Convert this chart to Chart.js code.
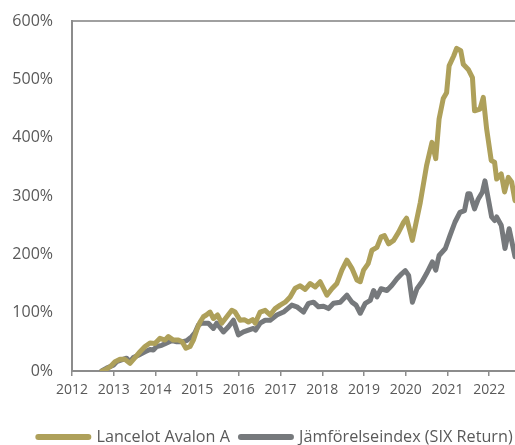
<!DOCTYPE html>
<html>
<head>
<meta charset="utf-8">
<script src="https://cdn.jsdelivr.net/npm/chart.js@4"></script>
<style>
  html, body { margin: 0; padding: 0; background: #ffffff; }
  #wrap { width: 515px; height: 445px; position: relative; }
</style>
</head>
<body>
<div id="wrap"><canvas id="c"></canvas></div>
<script>
// Series labels
const seriesNames = ['Lancelot Avalon A', 'Jämförelseindex (SIX Return)'];

// Lancelot Avalon A: time (decimal year) and cumulative return (%)
const lancelotTime = [
  2012.72, 2012.79, 2012.91, 2013.03, 2013.15, 2013.27, 2013.39, 2013.51, 2013.63, 2013.75,
  2013.87, 2013.99, 2014.11, 2014.23, 2014.31, 2014.43, 2014.55, 2014.64, 2014.73, 2014.83,
  2014.91, 2014.99, 2015.07, 2015.15, 2015.22, 2015.31, 2015.39, 2015.49, 2015.59, 2015.71,
  2015.83, 2015.91, 2016.03, 2016.13, 2016.23, 2016.33, 2016.39, 2016.51, 2016.63, 2016.75,
  2016.87, 2016.99, 2017.11, 2017.23, 2017.35, 2017.47, 2017.59, 2017.71, 2017.83, 2017.95,
  2018.11, 2018.23, 2018.35, 2018.47, 2018.59, 2018.71, 2018.83, 2018.91, 2018.99, 2019.10,
  2019.19, 2019.31, 2019.41, 2019.49, 2019.59, 2019.71, 2019.83, 2019.95, 2020.02, 2020.16,
  2020.35, 2020.50, 2020.63, 2020.72, 2020.80, 2020.90, 2020.98, 2021.04, 2021.15, 2021.22,
  2021.32, 2021.38, 2021.50, 2021.60, 2021.65, 2021.78, 2021.86, 2021.94, 2022.05, 2022.13,
  2022.18, 2022.29, 2022.37, 2022.46, 2022.54, 2022.62
];
const lancelotValues = [
  0, 2, 7, 16, 20, 20, 13, 23, 33, 42,
  48, 47, 56, 53, 59, 53, 53, 50, 39, 42,
  53, 70, 84, 93, 96, 101, 90, 96, 82, 93,
  104, 101, 87, 88, 84, 88, 82, 101, 104, 96,
  107, 113, 118, 127, 142, 146, 140, 150, 144, 153,
  130, 141, 150, 173, 190, 176, 156, 153, 173, 184,
  207, 212, 230, 232, 218, 224, 238, 255, 262, 224,
  289, 352, 392, 364, 432, 467, 477, 523, 540, 553,
  549, 526, 517, 503, 446, 449, 469, 415, 361, 358,
  329, 338, 307, 332, 324, 292
];

// Jämförelseindex (SIX Return): time (decimal year) and cumulative return (%)
const sixTime = [
  2012.71, 2012.83, 2012.99, 2013.07, 2013.19, 2013.31, 2013.39, 2013.47, 2013.59, 2013.75,
  2013.87, 2013.95, 2014.03, 2014.15, 2014.27, 2014.39, 2014.51, 2014.63, 2014.75, 2014.87,
  2014.95, 2015.03, 2015.11, 2015.27, 2015.39, 2015.47, 2015.63, 2015.75, 2015.87, 2015.99,
  2016.11, 2016.23, 2016.35, 2016.40, 2016.51, 2016.63, 2016.75, 2016.91, 2017.07, 2017.27,
  2017.39, 2017.55, 2017.67, 2017.79, 2017.91, 2018.03, 2018.15, 2018.27, 2018.43, 2018.59,
  2018.71, 2018.81, 2018.91, 2019.03, 2019.15, 2019.23, 2019.31, 2019.41, 2019.55, 2019.67,
  2019.79, 2019.91, 2019.99, 2020.07, 2020.16, 2020.27, 2020.39, 2020.50, 2020.64, 2020.72,
  2020.80, 2020.95, 2021.06, 2021.18, 2021.30, 2021.41, 2021.49, 2021.54, 2021.65, 2021.74,
  2021.84, 2021.90, 2021.98, 2022.06, 2022.13, 2022.18, 2022.29, 2022.38, 2022.48, 2022.62
];
const sixValues = [
  0, 5, 10, 16, 19, 22, 16, 23, 27, 33,
  37, 36, 42, 44, 48, 52, 50, 50, 52, 59,
  66, 79, 82, 82, 73, 82, 67, 76, 87, 62,
  67, 70, 73, 70, 82, 87, 87, 96, 101, 113,
  110, 101, 116, 118, 110, 111, 107, 116, 118, 130,
  118, 113, 99, 116, 121, 138, 127, 141, 138, 147,
  158, 167, 172, 164, 118, 141, 153, 167, 187, 173,
  198, 210, 232, 255, 272, 275, 304, 304, 278, 295,
  307, 326, 295, 264, 258, 264, 250, 210, 244, 196
];

// Axis tick values
const yTicks = [0, 100, 200, 300, 400, 500, 600];
const xTickYears = [2012, 2013, 2014, 2015, 2016, 2017, 2018, 2019, 2020, 2021, 2022];

const gold = '#AEA05A';
const grey = '#76797C';
const axisColor = '#8C8C8C';
const textColor = '#595959';
const fontFamily = '"Open Sans", "Noto Sans", sans-serif';

function toPoints(ts, vs) { return ts.map((t, i) => ({ x: t, y: vs[i] })); }

// shift the legend block to where the reference places it
const legendShift = {
  id: 'legendShift',
  afterLayout(chart) {
    const lg = chart.legend;
    if (!lg) return;
    lg.top += 13; lg.bottom += 13;
    lg.left += 18; lg.right += 18;
  }
};

new Chart(document.getElementById('c'), {
  type: 'line',
  data: {
    datasets: [
      {
        label: seriesNames[0],
        data: toPoints(lancelotTime, lancelotValues),
        borderColor: gold, backgroundColor: gold,
        borderWidth: 5, pointRadius: 0, tension: 0,
        borderJoinStyle: 'round', borderCapStyle: 'round'
      },
      {
        label: seriesNames[1],
        data: toPoints(sixTime, sixValues),
        borderColor: grey, backgroundColor: grey,
        borderWidth: 5, pointRadius: 0, tension: 0,
        borderJoinStyle: 'round', borderCapStyle: 'round'
      }
    ]
  },
  plugins: [legendShift],
  options: {
    responsive: true,
    maintainAspectRatio: false,
    animation: false,
    layout: { padding: { left: 0, top: 21, right: 0, bottom: 3 } },
    plugins: {
      tooltip: { enabled: false },
      legend: {
        position: 'bottom',
        labels: {
          usePointStyle: true,
          pointStyleWidth: 50,
          boxHeight: 10,
          padding: 11,
          color: textColor,
          font: { family: fontFamily, size: 16.2 },
          generateLabels: (chart) => chart.data.datasets.map((ds, i) => ({
            text: ds.label,
            fillStyle: ds.borderColor,
            strokeStyle: ds.borderColor,
            lineWidth: 6,
            lineCap: 'round',
            pointStyle: 'line',
            fontColor: textColor,
            hidden: false,
            datasetIndex: i
          }))
        }
      }
    },
    scales: {
      x: {
        type: 'linear',
        min: 2012,
        max: 2022.62,
        border: { display: true, color: axisColor, width: 2 },
        grid: { drawOnChartArea: false, drawTicks: true, tickLength: 5, color: axisColor, lineWidth: 1.5 },
        afterBuildTicks: (axis) => { axis.ticks = xTickYears.map(v => ({ value: v })); },
        ticks: {
          color: textColor,
          font: { family: fontFamily, size: 14 },
          padding: 6,
          maxRotation: 0,
          autoSkip: false,
          callback: (v) => String(v)
        }
      },
      y: {
        min: 0,
        max: 600,
        border: { display: true, color: axisColor, width: 2 },
        grid: {
          drawTicks: false,
          color: (ctx) => (ctx.tick && ctx.tick.value === 600) ? '#A0A0A0' : 'rgba(0,0,0,0)',
          lineWidth: 2
        },
        afterBuildTicks: (axis) => { axis.ticks = yTicks.map(v => ({ value: v })); },
        afterFit: (axis) => { axis.width = 72; axis.paddingTop = 0; },
        ticks: {
          color: textColor,
          font: { family: fontFamily, size: 16 },
          padding: 19,
          callback: (v) => v + '%'
        }
      }
    }
  }
});
</script>
</body>
</html>
